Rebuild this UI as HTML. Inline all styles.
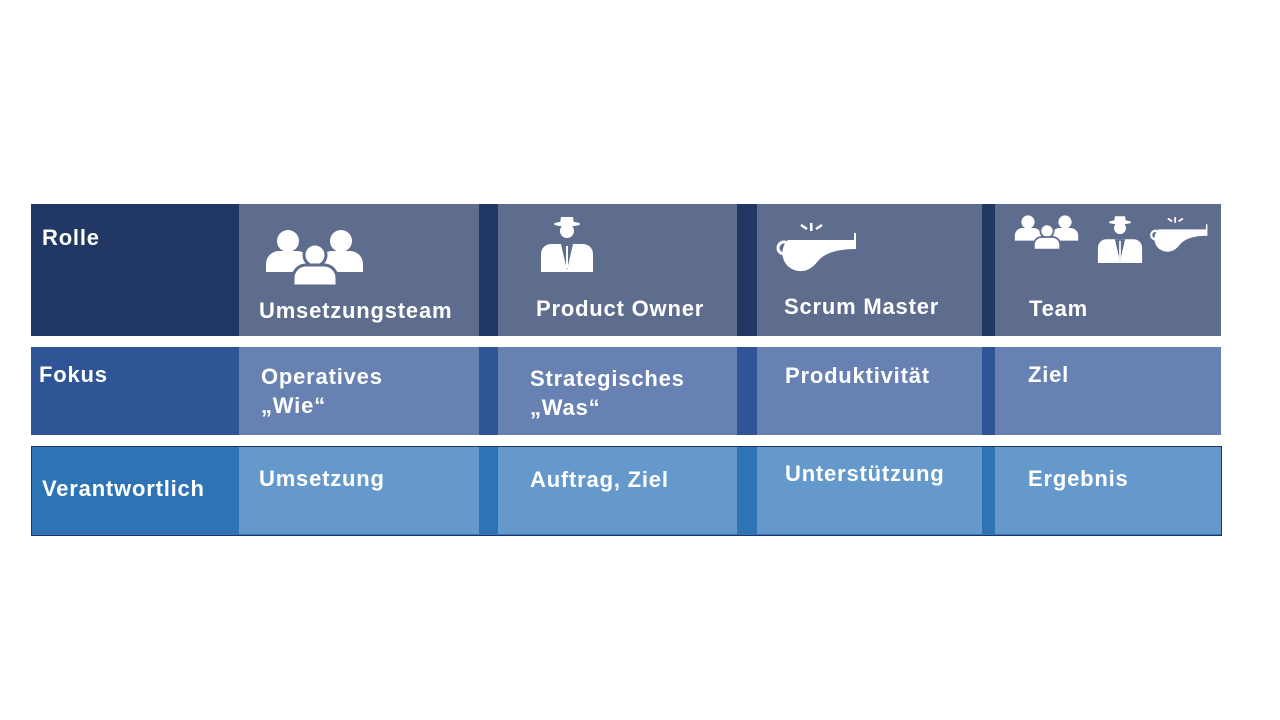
<!DOCTYPE html>
<html><head><meta charset="utf-8"><style>
body{margin:0;width:1280px;height:720px;background:#fff;position:relative;font-family:"Liberation Sans",sans-serif;overflow:hidden}
.b{position:absolute}
.t{position:absolute;color:#fff;font-weight:bold;font-size:22px;letter-spacing:0.8px;line-height:29px;white-space:nowrap}
</style></head><body>
<!-- row1 -->
<div class="b" style="left:31px;top:204px;width:1190px;height:132px;background:#213864"></div>
<div class="b" style="left:239px;top:204px;width:240px;height:132px;background:#5e6d8d"></div>
<div class="b" style="left:498px;top:204px;width:239px;height:132px;background:#5e6d8d"></div>
<div class="b" style="left:757px;top:204px;width:225px;height:132px;background:#5e6d8d"></div>
<div class="b" style="left:995px;top:204px;width:226px;height:132px;background:#5e6d8d"></div>
<!-- row2 -->
<div class="b" style="left:31px;top:347px;width:1190px;height:88px;background:#2f5597"></div>
<div class="b" style="left:239px;top:347px;width:240px;height:88px;background:#6881b3"></div>
<div class="b" style="left:498px;top:347px;width:239px;height:88px;background:#6881b3"></div>
<div class="b" style="left:757px;top:347px;width:225px;height:88px;background:#6881b3"></div>
<div class="b" style="left:995px;top:347px;width:226px;height:88px;background:#6881b3"></div>
<!-- row3 -->
<div class="b" style="left:31px;top:446px;width:1189px;height:88px;background:#2e74b5;border:1px solid #1f3864"></div>
<div class="b" style="left:239px;top:447px;width:240px;height:87px;background:#6699cb"></div>
<div class="b" style="left:498px;top:447px;width:239px;height:87px;background:#6699cb"></div>
<div class="b" style="left:757px;top:447px;width:225px;height:87px;background:#6699cb"></div>
<div class="b" style="left:995px;top:447px;width:226px;height:87px;background:#6699cb"></div>

<svg class="b" style="left:0;top:0" width="1280" height="720">
<defs>
<g id="ppl"><circle cx="0" cy="0" r="11" fill="#fff"/><path d="M-22 31 v-8 a13 13 0 0 1 13-13 h18 a13 13 0 0 1 13 13 v8z" fill="#fff"/></g>
<g id="pplf"><circle cx="0" cy="0" r="11" fill="#fff" stroke="#5e6d8d" stroke-width="3"/><path d="M-22 31 v-8 a13 13 0 0 1 13-13 h18 a13 13 0 0 1 13 13 v8z" fill="#fff" stroke="#5e6d8d" stroke-width="3"/></g>
<g id="agent" fill="#fff"><ellipse cx="0" cy="-8" rx="13" ry="2.5"/><path d="M-7 -8 l1-7 h12 l1 7z"/><circle cx="0" cy="-1" r="7"/><path d="M-26 40 v-18 a10 10 0 0 1 10-10 h32 a10 10 0 0 1 10 10 v18z"/><path d="M-6 12 l6 26 l6-26z" fill="#5e6d8d"/><rect x="-1" y="14" width="2" height="22"/></g>
<g id="wh" fill="#fff"><path d="M2 6 h66 v-7 h2 v16 q-28 0 -38 12 q-8 10 -16 10 a18 18 0 0 1 -14-31z"/><circle cx="-2" cy="14" r="6" fill="none" stroke="#fff" stroke-width="3"/><rect x="24" y="-11" width="2.5" height="8"/><path d="M15 -9 l6 4" stroke="#fff" stroke-width="2.5"/><path d="M36 -9 l-6 4" stroke="#fff" stroke-width="2.5"/></g>
</defs>
<g transform="translate(288,241)"><use href="#ppl"/></g>
<g transform="translate(341,241)"><use href="#ppl"/></g>
<g transform="translate(315,255)"><use href="#pplf"/></g>
<g transform="translate(567,232)"><use href="#agent"/></g>
<g transform="translate(786,234)"><use href="#wh"/></g>
<g transform="translate(1028,222) scale(0.6)"><use href="#ppl"/></g>
<g transform="translate(1065,222) scale(0.6)"><use href="#ppl"/></g>
<g transform="translate(1047,231) scale(0.6)"><use href="#pplf"/></g>
<g transform="translate(1120,229) scale(0.85)"><use href="#agent"/></g>
<g transform="translate(1157,225) scale(0.72)"><use href="#wh"/></g>
</svg>

<div class="t" style="left:42px;top:223px">Rolle</div>
<div class="t" style="left:259px;top:296px">Umsetzungsteam</div>
<div class="t" style="left:536px;top:294px">Product Owner</div>
<div class="t" style="left:784px;top:292px">Scrum Master</div>
<div class="t" style="left:1029px;top:294px">Team</div>

<div class="t" style="left:39px;top:360px">Fokus</div>
<div class="t" style="left:261px;top:362px">Operatives<br>„Wie“</div>
<div class="t" style="left:530px;top:364px">Strategisches<br>„Was“</div>
<div class="t" style="left:785px;top:361px">Produktivität</div>
<div class="t" style="left:1028px;top:360px">Ziel</div>

<div class="t" style="left:42px;top:474px">Verantwortlich</div>
<div class="t" style="left:259px;top:464px">Umsetzung</div>
<div class="t" style="left:530px;top:465px">Auftrag, Ziel</div>
<div class="t" style="left:785px;top:459px">Unterstützung</div>
<div class="t" style="left:1028px;top:464px">Ergebnis</div>
</body></html>
